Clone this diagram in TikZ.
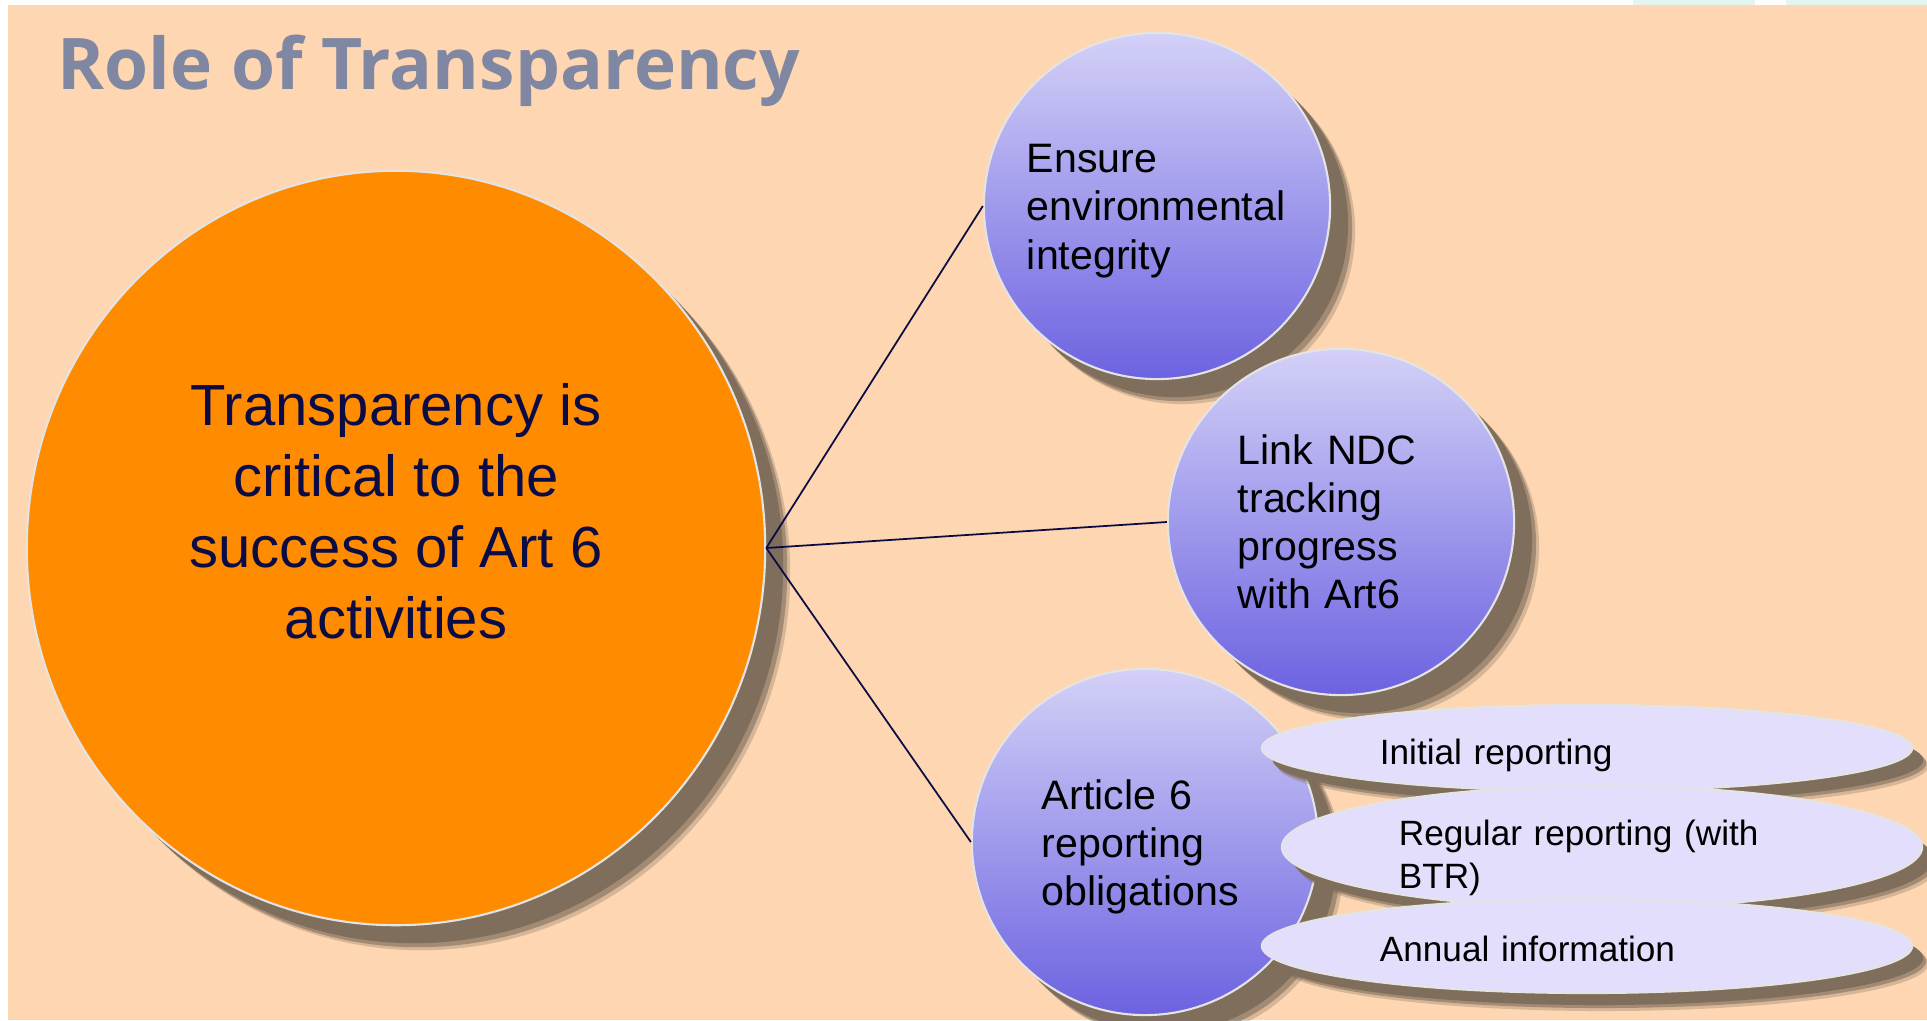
\documentclass[tikz,border=0pt]{standalone}
\usepackage{fontspec}
\setmainfont{Liberation Sans}
\newfontfamily\headfont{Open Sans}
\usepackage{tikz}
\usetikzlibrary{shapes.geometric,shadows,calc}

\definecolor{peach}{HTML}{FED6B1}
\definecolor{paleteal}{HTML}{E4F4F1}
\definecolor{slate}{HTML}{8087A3}
\definecolor{deeporange}{HTML}{FF8C00}
\definecolor{umber}{HTML}{7F6E5B}
\definecolor{navy}{HTML}{0B0B45}
\definecolor{lilactop}{HTML}{D3D1F7}
\definecolor{lilacbot}{HTML}{6C62E1}
\definecolor{lavender}{HTML}{E2DEFB}
\definecolor{rim}{HTML}{E4E4E4}

\tikzset{
  castshadow/.style={
    general shadow={shadow xshift=0.25cm, shadow yshift=-0.25cm, fill=umber, opacity=0.3},
    general shadow={shadow xshift=0.22cm, shadow yshift=-0.22cm, fill=umber, opacity=0.6},
    general shadow={shadow xshift=0.18cm, shadow yshift=-0.18cm, fill=umber}},
  smallshadow/.style={
    general shadow={shadow xshift=0.16cm, shadow yshift=-0.18cm, fill=umber, opacity=0.3},
    general shadow={shadow xshift=0.14cm, shadow yshift=-0.15cm, fill=umber, opacity=0.6},
    general shadow={shadow xshift=0.11cm, shadow yshift=-0.12cm, fill=umber}},
  bigball/.style={ellipse, minimum width=7.38cm, minimum height=7.54cm, inner sep=0pt,
    fill=deeporange, draw=rim, line width=0.6pt, castshadow},
  bigtext/.style={align=center, text=navy, inner sep=0pt,
    font=\fontsize{16.5}{20.2}\selectfont},
  ball/.style={circle, minimum size=3.46cm, inner sep=0pt, top color=lilactop,
    bottom color=lilacbot, draw=rim, line width=0.6pt, castshadow},
  balltext/.style={align=left, inner sep=0pt, text=black,
    font=\fontsize{11.7}{13.7}\selectfont},
  pill/.style={ellipse, minimum width=6.5cm, inner sep=0pt, fill=lavender,
    draw=rim, line width=0.6pt, smallshadow},
  pilltext/.style={align=left, inner sep=0pt, text=black,
    font=\fontsize{10}{12.2}\selectfont},
  link/.style={draw=navy, line width=0.5pt}
}

\begin{document}
\begin{tikzpicture}[x=0.01cm, y=0.01cm]
  \useasboundingbox (0,0) rectangle (1927,1020);
  \fill[peach] (8,0) rectangle (1927,1015);
  \fill[paleteal] (1633,1015) rectangle (1755,1020);
  \fill[paleteal] (1786,1015) rectangle (1927,1020);

  \node[anchor=base west, inner sep=0pt, text=slate,
    font=\headfont\bfseries\fontsize{20.25}{24}\selectfont] (title) at (57,930) {Role of Transparency};

  \node[bigball] (main) at (396,472) {};
  \node[bigtext] (maintext) at ($(main) + (0,37)$)
    {Transparency is\\critical to the\\success of Art 6\\activities};

  \node[ball] (c1) at ($(main) + (761,342)$) {};
  \node[balltext, text width=2.6cm] (t1) at ($(c1) + (0,-5)$)
    {Ensure\\environmental\\integrity};
  \node[ball] (c2) at ($(main) + (945,26)$) {};
  \node[balltext, text width=2.06cm] (t2) at (c2)
    {Link NDC\\tracking\\progress\\with Art6};
  \node[ball] (c3) at ($(main) + (749,-294)$) {};
  \node[balltext, text width=2.06cm] (t3) at ($(c3) + (0,-5)$)
    {Article 6\\reporting\\obligations};

  \node[pill, minimum height=0.86cm] (e1) at ($(c3) + (442,94)$) {};
  \node[pilltext, text width=4.14cm] (p1) at ($(e1) + (0,-7)$) {Initial reporting};
  \node[pill, minimum width=6.4cm, minimum height=1.22cm] (e2) at ($(c3) + (457,-5)$) {};
  \node[pilltext, text width=4.06cm] (p2) at ($(e2) + (0,-11)$) {Regular reporting (with\\BTR)};
  \node[pill, minimum height=0.94cm] (e3) at ($(c3) + (442,-104)$) {};
  \node[pilltext, text width=4.14cm] (p3) at ($(e3) + (0,-3)$) {Annual information};

  \draw[link] (main.east) -- (c1.west);
  \draw[link] (main.east) -- (c2.west);
  \draw[link] (main.east) -- (c3.west);
\end{tikzpicture}
\end{document}
